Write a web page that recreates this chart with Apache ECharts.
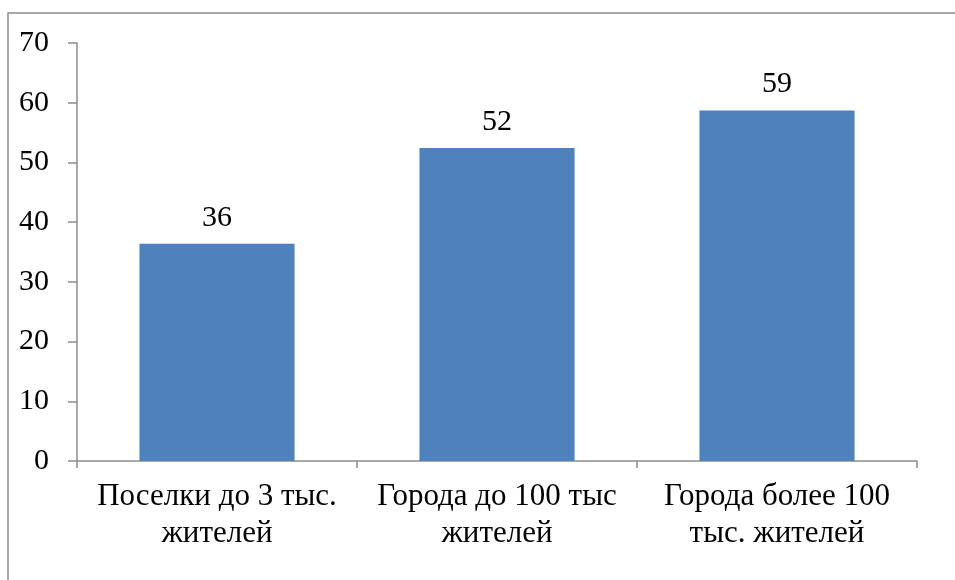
<!DOCTYPE html>
<html>
<head>
<meta charset="utf-8">
<script src="https://cdn.jsdelivr.net/npm/echarts@6/dist/echarts.min.js"></script>
<style>html,body{margin:0;padding:0;background:#fff}#c{width:955px;height:580px}</style>
</head>
<body>
<div id="c"></div>
<script>
var categories = ['Поселки до 3 тыс.\nжителей', 'Города до 100 тыс\nжителей', 'Города более 100\nтыс. жителей'];
var values = [36.4, 52.4, 58.7];
var yTicks = [0, 10, 20, 30, 40, 50, 60, 70];

var chart = echarts.init(document.getElementById('c'));
var font = '"Liberation Serif", "Times New Roman", serif';
chart.setOption({
  animation: false,
  textStyle: { fontFamily: font },
  graphic: [{
    type: 'polyline',
    shape: { points: [[8, 600], [8, 13], [960, 13]] },
    style: { stroke: '#8c8c8c', lineWidth: 1.5, fill: null },
    silent: true
  }],
  grid: { left: 77, right: 38, top: 43, bottom: 119 },
  xAxis: {
    type: 'category',
    data: categories,
    axisLine: { lineStyle: { color: '#8c8c8c', width: 1.5 } },
    axisTick: { show: true, length: 7, lineStyle: { color: '#8c8c8c', width: 1.5 } },
    axisLabel: { color: '#000', fontSize: 31, fontFamily: font, lineHeight: 37, margin: 17, interval: 0 }
  },
  yAxis: {
    type: 'value',
    min: yTicks[0],
    max: yTicks[yTicks.length - 1],
    interval: 10,
    splitLine: { show: false },
    axisLine: { show: true, lineStyle: { color: '#8c8c8c', width: 1.5 } },
    axisTick: { show: true, length: 9, lineStyle: { color: '#8c8c8c', width: 1.5 } },
    axisLabel: { color: '#000', fontSize: 30, fontFamily: font, margin: 28 }
  },
  series: [{
    type: 'bar',
    data: values,
    barWidth: '55.4%',
    itemStyle: { color: '#4F81BD' },
    label: {
      show: true,
      position: 'top',
      distance: 11,
      color: '#000',
      fontSize: 30,
      fontFamily: font,
      formatter: function (p) { return Math.round(p.value); }
    }
  }]
});
</script>
</body>
</html>
